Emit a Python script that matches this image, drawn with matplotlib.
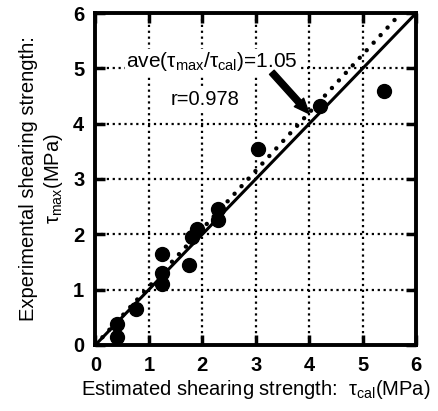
import matplotlib.pyplot as plt

plt.rcParams['font.family'] = ['Liberation Sans', 'DejaVu Sans']
plt.rcParams['mathtext.fontset'] = 'custom'
plt.rcParams['mathtext.rm'] = 'Liberation Sans'

# estimated shearing strength tau_cal (MPa) vs experimental tau_max (MPa)
tau_cal = [0.4, 0.4, 0.75, 1.25, 1.25, 1.25, 1.75, 1.8, 1.9, 2.3, 2.3, 3.05, 4.2, 5.4]
tau_max = [0.15, 0.38, 0.65, 1.65, 1.3, 1.1, 1.45, 1.95, 2.1, 2.45, 2.25, 3.55, 4.32, 4.6]
ticks = [0, 1, 2, 3, 4, 5, 6]
ratio = 1.05

fig = plt.figure(figsize=(4.38, 4.11), dpi=100)
ax = fig.add_axes([0.218, 0.161, 0.732, 0.807])

ax.plot([0, 6], [0, 6], color='black', lw=2.2, zorder=3)
ax.plot([0, 6 / ratio], [0, 6], color='black', lw=3.2, ls=(0, (0.01, 2.3)),
        dash_capstyle='round', zorder=3)
ax.plot(tau_cal, tau_max, 'o', color='black', ms=10, zorder=4)

ax.set_xlim(0, 6)
ax.set_ylim(0, 6)
ax.set_xticks(ticks)
ax.set_yticks(ticks)
ax.grid(True, color='black', ls=':', lw=1.6)
ax.tick_params(direction='in', length=7, width=2.5, top=True, right=True,
               labelsize=14.5, pad=8)
for lab in ax.get_xticklabels() + ax.get_yticklabels():
    lab.set_fontweight('bold')
for s in ax.spines.values():
    s.set_linewidth(2.8)

ax.set_xlabel('Estimated shearing strength:  τ$_{\\rm cal}$(MPa)', fontsize=14.5, labelpad=2)
ax.set_ylabel('Experimental shearing strength:\nτ$_{\\rm max}$(MPa)', fontsize=14.5,
              labelpad=6, linespacing=1.2)

ax.text(0.58, 5.12, 'ave(τ$_{\\rm max}$/τ$_{\\rm cal}$)=1.05', fontsize=15, va='center',
        bbox=dict(facecolor='white', edgecolor='none', pad=1), zorder=5)
ax.text(2.05, 4.43, 'r=0.978', fontsize=14.5, va='center', ha='center',
        bbox=dict(facecolor='white', edgecolor='none', pad=1), zorder=5)
ax.annotate('', xy=(4.0, 4.18), xytext=(3.3, 4.93),
            arrowprops=dict(arrowstyle='simple,head_width=0.9,head_length=1.1,tail_width=0.45',
                            color='black', shrinkA=0, shrinkB=0), zorder=6)

fig.savefig('out.png', dpi=100)
